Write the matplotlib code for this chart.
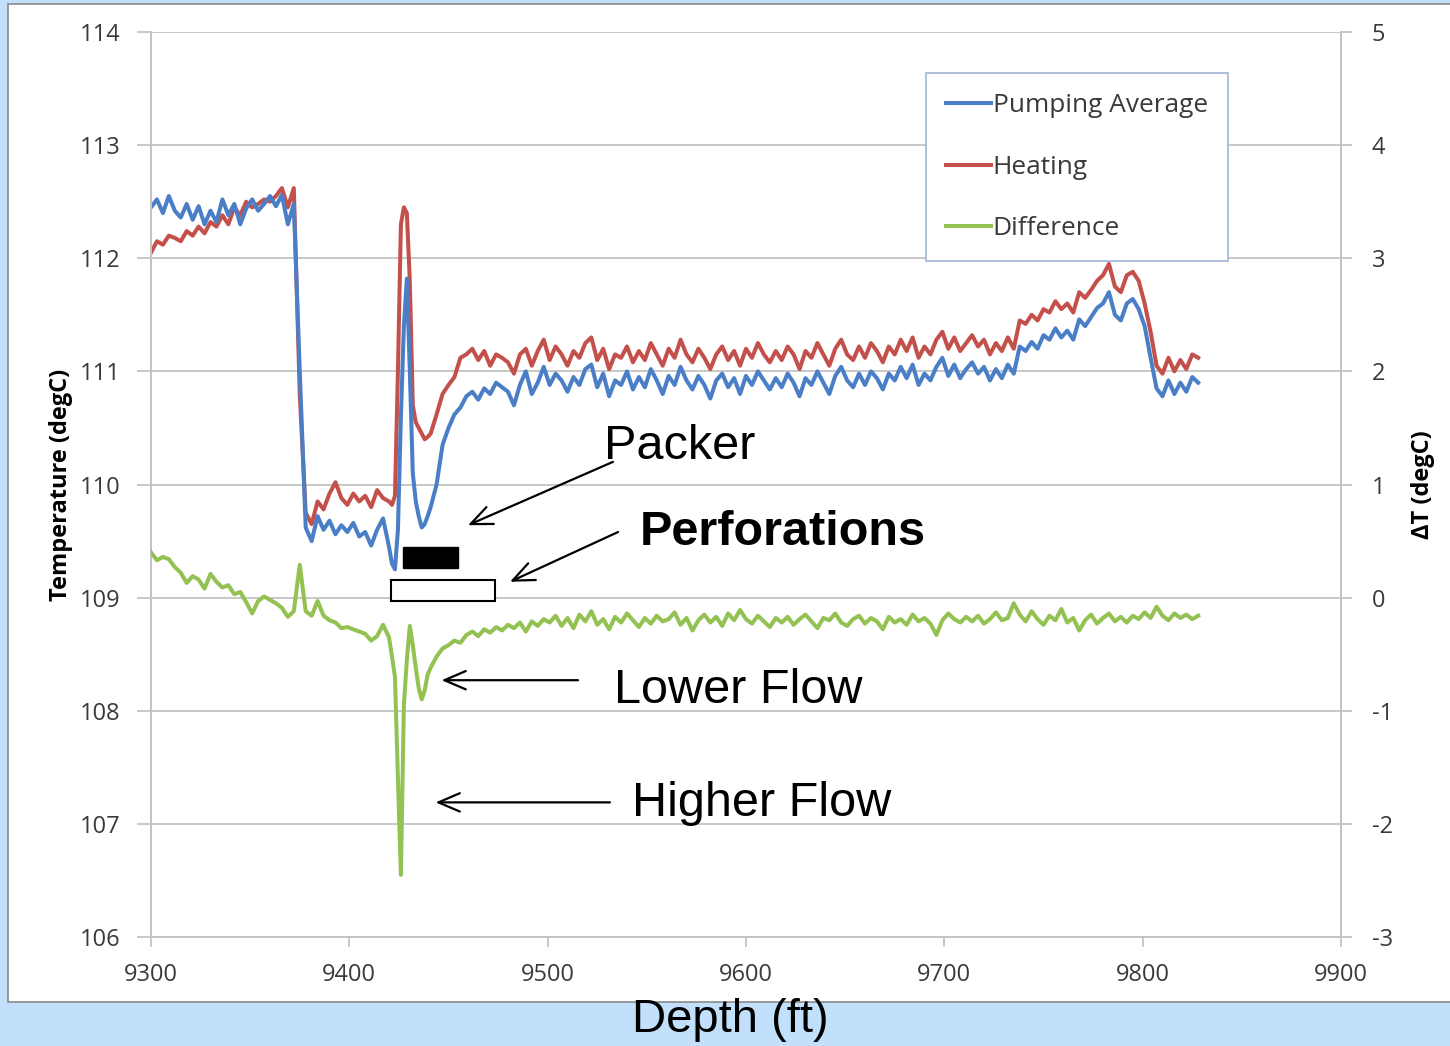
import numpy as np
import matplotlib
matplotlib.use("Agg")
from matplotlib import pyplot as plt
from matplotlib.patches import Rectangle
from matplotlib.lines import Line2D

# depth grid (ft): 3 ft steps, finer near the spike at the packer
depth = np.concatenate([np.arange(9300, 9420, 3.0),
                        np.arange(9420, 9441, 1.5),
                        np.arange(9441, 9829, 3.0)])

# Pumping Average (degC)
pumping_a = [112.45, 112.52, 112.40, 112.55, 112.42, 112.36, 112.48, 112.34, 112.46, 112.30,
             112.42, 112.32, 112.52, 112.38, 112.48, 112.30, 112.44, 112.52, 112.42, 112.48,
             112.55, 112.46, 112.56, 112.30, 112.48, 111.00, 109.62, 109.50, 109.72, 109.60,
             109.68, 109.56, 109.64, 109.58, 109.66, 109.54, 109.58, 109.46, 109.60, 109.70]
pumping_b = [109.45, 109.30, 109.25, 109.60, 110.60, 111.40, 111.82, 111.00, 110.10, 109.85,
             109.72, 109.62, 109.65, 109.72]
pumping_c = [109.80, 110.00, 110.35, 110.50, 110.62, 110.68, 110.78, 110.82, 110.75, 110.85,
             110.80, 110.90, 110.86, 110.82, 110.70, 110.88, 111.00, 110.80, 110.90, 111.04,
             110.88, 110.98, 110.92, 110.82, 110.95, 110.88, 111.02, 111.06, 110.86, 110.98,
             110.78, 110.92, 110.88, 111.00, 110.84, 110.95, 110.86, 111.02, 110.92, 110.80,
             110.96, 110.88, 111.04, 110.92, 110.84, 110.96, 110.88, 110.76, 110.92, 110.98,
             110.86, 110.94, 110.80, 110.96, 110.88, 111.00, 110.92, 110.84, 110.94, 110.86,
             110.98, 110.90, 110.78, 110.94, 110.88, 111.00, 110.90, 110.80, 110.96, 111.04,
             110.92, 110.86, 110.98, 110.88, 111.00, 110.94, 110.84, 110.98, 110.92, 111.04,
             110.94, 111.06, 110.88, 110.98, 110.92, 111.04, 111.12, 110.96, 111.06, 110.94,
             111.02, 111.08, 110.98, 111.04, 110.92, 111.02, 110.94, 111.06, 110.98, 111.22,
             111.18, 111.26, 111.20, 111.32, 111.28, 111.38, 111.30, 111.36, 111.28, 111.46,
             111.40, 111.48, 111.56, 111.60, 111.70, 111.50, 111.45, 111.60, 111.64, 111.55,
             111.40, 111.12, 110.85, 110.78, 110.92, 110.80, 110.90, 110.82, 110.95, 110.90]

# Heating (degC)
heating_a = [112.05, 112.15, 112.12, 112.20, 112.18, 112.15, 112.24, 112.20, 112.28, 112.22,
             112.32, 112.28, 112.38, 112.30, 112.45, 112.38, 112.50, 112.45, 112.48, 112.52,
             112.50, 112.55, 112.62, 112.45, 112.62, 110.80, 109.75, 109.65, 109.85, 109.78,
             109.92, 110.02, 109.88, 109.82, 109.92, 109.85, 109.90, 109.80, 109.95, 109.88]
heating_b = [109.85, 109.82, 109.90, 111.00, 112.30, 112.45, 112.40, 111.80, 110.70, 110.55,
             110.50, 110.45, 110.40, 110.42]
heating_c = [110.45, 110.62, 110.80, 110.88, 110.95, 111.12, 111.15, 111.20, 111.10, 111.18,
             111.05, 111.15, 111.12, 111.08, 110.98, 111.15, 111.20, 111.05, 111.18, 111.28,
             111.10, 111.22, 111.15, 111.05, 111.18, 111.12, 111.25, 111.30, 111.10, 111.20,
             111.02, 111.15, 111.12, 111.22, 111.08, 111.18, 111.10, 111.25, 111.15, 111.05,
             111.20, 111.12, 111.28, 111.15, 111.08, 111.20, 111.12, 111.02, 111.15, 111.22,
             111.10, 111.18, 111.05, 111.20, 111.12, 111.25, 111.15, 111.08, 111.18, 111.10,
             111.22, 111.15, 111.02, 111.18, 111.12, 111.25, 111.15, 111.05, 111.20, 111.28,
             111.15, 111.10, 111.22, 111.12, 111.25, 111.18, 111.08, 111.22, 111.15, 111.28,
             111.18, 111.30, 111.12, 111.22, 111.15, 111.28, 111.35, 111.20, 111.30, 111.18,
             111.25, 111.32, 111.22, 111.28, 111.15, 111.25, 111.18, 111.30, 111.20, 111.45,
             111.42, 111.50, 111.45, 111.55, 111.52, 111.62, 111.55, 111.60, 111.52, 111.70,
             111.65, 111.72, 111.80, 111.85, 111.95, 111.75, 111.70, 111.85, 111.88, 111.80,
             111.60, 111.35, 111.05, 110.98, 111.12, 111.00, 111.10, 111.02, 111.15, 111.12]

# Difference (degC, right axis)
diff_a = [0.40, 0.33, 0.36, 0.34, 0.27, 0.22, 0.13, 0.19, 0.16, 0.08,
          0.21, 0.14, 0.09, 0.11, 0.03, 0.05, -0.04, -0.14, -0.03, 0.01,
          -0.02, -0.05, -0.09, -0.17, -0.12, 0.29, -0.12, -0.16, -0.03, -0.16,
          -0.20, -0.22, -0.27, -0.26, -0.28, -0.30, -0.32, -0.38, -0.34, -0.24]
diff_b = [-0.35, -0.52, -0.70, -1.60, -2.45, -0.95, -0.55, -0.25, -0.42, -0.62,
          -0.80, -0.90, -0.82, -0.68]
diff_c = [-0.62, -0.52, -0.45, -0.42, -0.38, -0.40, -0.33, -0.30, -0.34, -0.28,
          -0.31, -0.26, -0.29, -0.24, -0.27, -0.22, -0.30, -0.21, -0.25, -0.19,
          -0.22, -0.16, -0.25, -0.18, -0.27, -0.15, -0.21, -0.12, -0.24, -0.19,
          -0.28, -0.17, -0.22, -0.14, -0.20, -0.26, -0.18, -0.23, -0.16, -0.21,
          -0.19, -0.13, -0.24, -0.18, -0.29, -0.20, -0.15, -0.22, -0.17, -0.25,
          -0.14, -0.20, -0.11, -0.19, -0.23, -0.16, -0.21, -0.26, -0.18, -0.22,
          -0.17, -0.24, -0.19, -0.15, -0.21, -0.27, -0.18, -0.20, -0.14, -0.22,
          -0.25, -0.19, -0.16, -0.23, -0.18, -0.21, -0.28, -0.17, -0.22, -0.19,
          -0.24, -0.15, -0.21, -0.18, -0.23, -0.33, -0.20, -0.14, -0.19, -0.22,
          -0.17, -0.21, -0.16, -0.23, -0.19, -0.13, -0.20, -0.18, -0.05, -0.15,
          -0.21, -0.12, -0.19, -0.24, -0.16, -0.20, -0.10, -0.22, -0.18, -0.29,
          -0.20, -0.15, -0.23, -0.18, -0.14, -0.21, -0.17, -0.22, -0.16, -0.19,
          -0.13, -0.18, -0.08, -0.16, -0.20, -0.14, -0.18, -0.15, -0.19, -0.16]

pumping = np.array(pumping_a + pumping_b + pumping_c)
heating = np.array(heating_a + heating_b + heating_c)
difference = np.array(diff_a + diff_b + diff_c)

series_names = ["Pumping Average", "Heating", "Difference"]
series_colors = ["#4A7EC6", "#C4504C", "#93C152"]

temp_ticks = [106, 107, 108, 109, 110, 111, 112, 113, 114]
dt_ticks = [-3, -2, -1, 0, 1, 2, 3, 4, 5]
depth_ticks = [9300, 9400, 9500, 9600, 9700, 9800, 9900]

plt.rcParams['font.family'] = ['Open Sans', 'DejaVu Sans']
plt.rcParams['axes.unicode_minus'] = False

W, H = 1450, 1046
fig = plt.figure(figsize=(W / 100, H / 100), dpi=100, facecolor="#C2DFFB")
# white slide panel behind the chart
panel = Rectangle((8 / W, 1 - 1002 / H), 1.0, (1002 - 4) / H,
                  transform=fig.transFigure, facecolor="white",
                  edgecolor="#8A8A8A", lw=1.2, zorder=-10)
fig.patches.append(panel)

ax = fig.add_axes([151 / W, 1 - 937 / H, (1341 - 151) / W, (937 - 32) / H])
ax.set_facecolor("none")
ax2 = ax.twinx()

grid_c = "#C4C4C4"
lw = 2.9
ax.plot(depth, pumping, color=series_colors[0], lw=lw, zorder=3)
ax.plot(depth, heating, color=series_colors[1], lw=lw, zorder=2)
ax2.plot(depth, difference, color=series_colors[2], lw=lw, zorder=3)

ax.set_xlim(9300, 9900)
ax.set_ylim(106, 114)
ax2.set_ylim(-3, 5)
ax.set_xticks(depth_ticks)
ax.set_yticks(temp_ticks)
ax2.set_yticks(dt_ticks)
ax.grid(axis="y", color=grid_c, lw=1.3)
ax.set_axisbelow(True)

for a in (ax, ax2):
    for s in a.spines.values():
        s.set_color(grid_c)
        s.set_linewidth(1.3)
    a.spines["top"].set_visible(False)
tick_c = "#3A3A3A"
ax.tick_params(axis="y", length=10, width=1.3, color=grid_c, labelsize=17,
               labelcolor=tick_c, pad=12)
ax.tick_params(axis="x", length=7, width=1.3, color=grid_c, labelsize=17,
               labelcolor=tick_c, pad=12)
ax2.tick_params(axis="y", length=8, width=1.3, color=grid_c, labelsize=17,
                labelcolor=tick_c, pad=14)

ax.set_ylabel("Temperature (degC)", fontsize=17, fontweight="bold", labelpad=5)
ax2.set_ylabel("ΔT (degC)", fontsize=17, fontweight="bold", labelpad=13)

fig.text(730 / W, 1 - 1020 / H, "Depth (ft)", ha="center", va="center",
         fontsize=34, family=["Liberation Sans Narrow", "Liberation Sans"])

# legend
handles = [Line2D([], [], color=c, lw=lw) for c in series_colors]
leg = ax.legend(handles, series_names, loc="upper left",
                bbox_to_anchor=((926 - 151) / 1190, 1 - (73 - 32) / 905),
                borderaxespad=0, fontsize=18.9, handlelength=1.7,
                handletextpad=0.08, labelspacing=1.4, borderpad=0.76,
                fancybox=False, framealpha=1)
leg.get_frame().set_edgecolor("#A9BADB")
leg.get_frame().set_linewidth(1.3)
leg.set_zorder(10)
for t in leg.get_texts():
    t.set_color(tick_c)

# packer and perforation markers
ax.add_patch(Rectangle((9427, 109.26), 28, 0.19, facecolor="black",
                       edgecolor="black", zorder=5))
ax.add_patch(Rectangle((9421, 108.97), 52.5, 0.19, facecolor="white",
                       edgecolor="black", lw=1.5, zorder=5))

arrow = dict(arrowstyle="->,head_length=0.7,head_width=0.3", lw=1.6,
             color="black", mutation_scale=22, shrinkA=0, shrinkB=0)
tfont = dict(family=["Liberation Sans", "DejaVu Sans"], fontsize=35)
ax.annotate("", xy=(9459.8, 109.64), xytext=(9532.9, 110.2), arrowprops=arrow)
ax.text(9528.5, 110.34, "Packer", ha="left", va="center", **tfont)
ax.annotate("", xy=(9481, 109.14), xytext=(9535.5, 109.58), arrowprops=arrow)
ax.text(9546.5, 109.58, "Perforations", ha="left", va="center",
        fontweight="bold", **tfont)
ax.annotate("", xy=(9446.5, 108.27), xytext=(9515.3, 108.27), arrowprops=arrow)
ax.text(9533.4, 108.18, "Lower Flow", ha="left", va="center", **tfont)
ax.annotate("", xy=(9443.5, 107.19), xytext=(9531.4, 107.19), arrowprops=arrow)
ax.text(9542.5, 107.18, "Higher Flow", ha="left", va="center", **tfont)

fig.savefig("out.png", dpi=100, facecolor=fig.get_facecolor())
